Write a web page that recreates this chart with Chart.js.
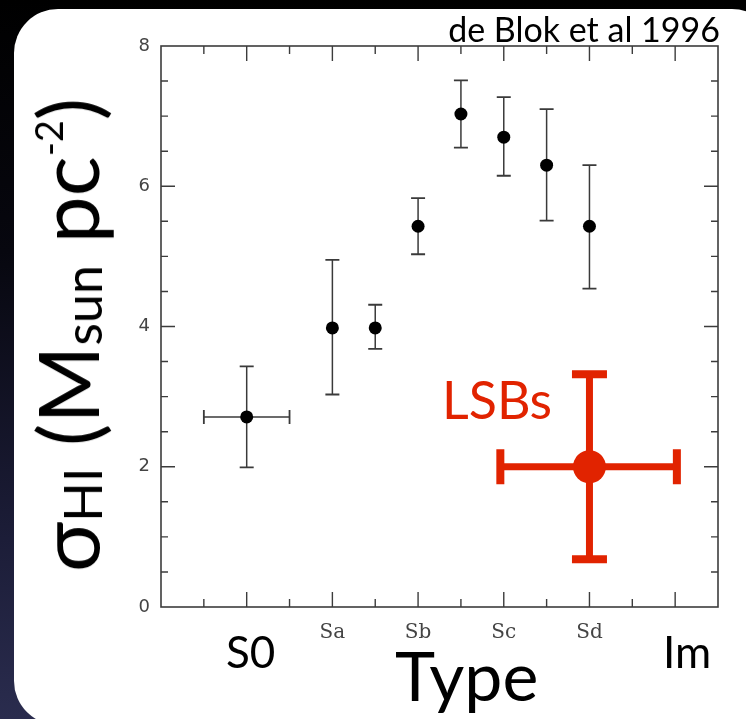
<!DOCTYPE html>
<html><head><meta charset="utf-8">
<script src="https://cdn.jsdelivr.net/npm/chart.js@4"></script>
<style>
html,body{margin:0;padding:0;width:746px;height:719px;overflow:hidden;}
body{position:relative;background:linear-gradient(180deg,#000 0%,#07070f 35%,#1c1d38 75%,#2a2c4e 100%);font-family:Lato,sans-serif;}
#panel{position:absolute;left:14px;top:9px;width:762px;height:716px;background:#fff;border-radius:44px;}
#c{position:absolute;left:0;top:0;}
.t{position:absolute;white-space:nowrap;color:#000;line-height:1;font-family:Lato,sans-serif;}
#ref{right:26px;top:12px;font-size:34px;}
#lsb{left:442px;top:373px;font-size:52px;color:#e12300;}
#typeLbl{left:395px;top:641px;font-size:68px;}
#s0{left:226px;top:629px;font-size:44px;}
#im{left:663px;top:629px;font-size:44px;}
#yt{left:67px;top:335px;font-size:84px;line-height:1;transform:translate(-50%,-50%) rotate(-90deg);}
#yt .sub{font-size:0.62em;vertical-align:-0.06em;}
#yt .sup{font-size:0.45em;vertical-align:0.95em;}
</style></head><body>
<div id="panel"></div>
<canvas id="c" width="746" height="719"></canvas>
<div class="t" id="ref">de Blok et al 1996</div>
<div class="t" id="lsb">LSBs</div>
<div class="t" id="typeLbl">Type</div>
<div class="t" id="s0">S0</div>
<div class="t" id="im">Im</div>
<div class="t" id="yt">σ<span class="sub">HI</span> (M<span class="sub">sun</span> pc<span class="sup">-2</span>)</div>
<script>
// Morphological type (S0=0, Sa=1, Sb=2, Sc=3, Sd=4, Im=5)
const typeValues  = [0, 1, 1.5, 2, 2.5, 3, 3.5, 4];
const sigmaHI     = [2.71, 3.98, 3.98, 5.43, 7.03, 6.70, 6.30, 5.43];
const sigmaUpper  = [3.43, 4.95, 4.31, 5.83, 7.51, 7.27, 7.10, 6.30];
const sigmaLower  = [1.99, 3.03, 3.68, 5.03, 6.55, 6.15, 5.51, 4.54];
const typeLower   = [-0.5, null, null, null, null, null, null, null];
const typeUpper   = [0.5, null, null, null, null, null, null, null];

const lsbType      = [4];
const lsbSigma     = [2.0];
const lsbUpper     = [3.32];
const lsbLower     = [0.68];
const lsbTypeLower = [2.96];
const lsbTypeUpper = [5.02];

const xTickValues = [0, 1, 2, 3, 4, 5];
const xTickLabels = ['S0', 'Sa', 'Sb', 'Sc', 'Sd', 'Im'];
const smallXTicks = [1, 2, 3, 4];
const yTickValues = [0, 2, 4, 6, 8];

const RED = '#e12300';

const errorBars = {
  id: 'errorBars',
  beforeDatasetsDraw(chart) {
    const ctx = chart.ctx, xs = chart.scales.x, ys = chart.scales.y;
    const drawSet = (tx, ty, lo, hi, xlo, xhi, color, lw, cap, capW) => {
      ctx.save();
      ctx.strokeStyle = color; ctx.lineCap = 'butt';
      tx.forEach((t, i) => {
        const px = xs.getPixelForValue(t), py = ys.getPixelForValue(ty[i]);
        ctx.lineWidth = lw;
        if (lo[i] != null) {
          const pl = ys.getPixelForValue(lo[i]), ph = ys.getPixelForValue(hi[i]);
          ctx.beginPath(); ctx.moveTo(px, pl); ctx.lineTo(px, ph); ctx.stroke();
          ctx.lineWidth = capW;
          ctx.beginPath(); ctx.moveTo(px - cap, ph); ctx.lineTo(px + cap, ph);
          ctx.moveTo(px - cap, pl); ctx.lineTo(px + cap, pl); ctx.stroke();
        }
        if (xlo[i] != null) {
          const ql = xs.getPixelForValue(xlo[i]), qh = xs.getPixelForValue(xhi[i]);
          ctx.lineWidth = lw;
          ctx.beginPath(); ctx.moveTo(ql, py); ctx.lineTo(qh, py); ctx.stroke();
          ctx.lineWidth = capW;
          ctx.beginPath(); ctx.moveTo(ql, py - cap); ctx.lineTo(ql, py + cap);
          ctx.moveTo(qh, py - cap); ctx.lineTo(qh, py + cap); ctx.stroke();
        }
      });
      ctx.restore();
    };
    drawSet(typeValues, sigmaHI, sigmaLower, sigmaUpper, typeLower, typeUpper, '#3a3a3a', 1.5, 7, 1.8);
    drawSet(lsbType, lsbSigma, lsbLower, lsbUpper, lsbTypeLower, lsbTypeUpper, RED, 7, 17.5, 8);
  }
};

const frame = {
  id: 'frame',
  beforeDatasetsDraw(chart) {
    const ctx = chart.ctx, a = chart.chartArea, xs = chart.scales.x, ys = chart.scales.y;
    ctx.save();
    ctx.strokeStyle = '#3c3c3c'; ctx.lineWidth = 1.6;
    ctx.strokeRect(a.left, a.top, a.right - a.left, a.bottom - a.top);
    ctx.lineWidth = 1.4;
    ctx.beginPath();
    for (let v = ys.min + 0.5; v < ys.max; v += 0.5) {
      const py = ys.getPixelForValue(v);
      const len = (v % 2 === 0) ? 14 : 7;
      ctx.moveTo(a.left, py); ctx.lineTo(a.left + len, py);
      ctx.moveTo(a.right, py); ctx.lineTo(a.right - len, py);
    }
    for (let v = xs.min + 0.5; v < xs.max; v += 0.5) {
      const px = xs.getPixelForValue(v);
      const len = Number.isInteger(v) ? 15 : 8;
      ctx.moveTo(px, a.bottom); ctx.lineTo(px, a.bottom - len);
      ctx.moveTo(px, a.top); ctx.lineTo(px, a.top + len);
    }
    ctx.stroke();
    ctx.restore();
  }
};

new Chart(document.getElementById('c'), {
  type: 'scatter',
  data: {
    datasets: [
      { data: typeValues.map((t, i) => ({ x: t, y: sigmaHI[i] })), pointRadius: 6.5, pointBackgroundColor: '#000', pointBorderWidth: 0, pointHoverRadius: 6.5 },
      { data: lsbType.map((t, i) => ({ x: t, y: lsbSigma[i] })), pointRadius: 16.5, pointBackgroundColor: RED, pointBorderWidth: 0, pointHoverRadius: 16.5 }
    ]
  },
  options: {
    responsive: false, animation: false, devicePixelRatio: 1,
    layout: { padding: { top: 46, right: 28, left: 0, bottom: 0 } },
    plugins: { legend: { display: false }, tooltip: { enabled: false } },
    scales: {
      x: {
        type: 'linear', min: -1, max: 5.5,
        grid: { display: false }, border: { display: false },
        afterBuildTicks: s => { s.ticks = smallXTicks.map(v => ({ value: v })); },
        afterFit: s => { s.height = 112; },
        ticks: {
          callback: v => xTickLabels[xTickValues.indexOf(v)],
          font: { family: 'DejaVu Serif', size: 20 }, color: '#444', padding: 6,
          maxRotation: 0, autoSkip: false
        }
      },
      y: {
        min: 0, max: 8,
        grid: { display: false }, border: { display: false },
        afterBuildTicks: s => { s.ticks = yTickValues.map(v => ({ value: v })); },
        afterFit: s => { s.width = 161; },
        ticks: { font: { family: 'DejaVu Sans', size: 18 }, color: '#444', padding: 3 }
      }
    }
  },
  plugins: [frame, errorBars]
});
</script>
</body></html>
